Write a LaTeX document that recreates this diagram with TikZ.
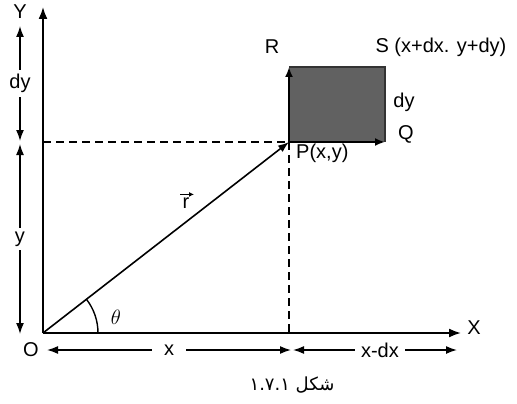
\documentclass[tikz,border=0pt]{standalone}
\usepackage{fontspec}
\setmainfont{Liberation Sans}
\newfontfamily\arabicfont[Script=Arabic]{DejaVu Sans}
\TeXXeTstate=1
\usetikzlibrary{arrows.meta}
\tikzset{
  axisline/.style={line width=1.8pt, -{Latex[length=12pt,width=9pt]}},
  dimline/.style={line width=1.5pt, {Latex[length=11pt,width=8pt]}-{Latex[length=11pt,width=8pt]}},
  guide/.style={line width=1.3pt, dash pattern=on 8pt off 5pt},
  vecline/.style={line width=1.6pt, -{Latex[length=11pt,width=8pt]}},
  edgearrow/.style={line width=2pt, -{Latex[length=10pt,width=8pt]}},
  lbl/.style={font=\fontsize{20}{20}\selectfont, inner sep=1pt},
  dimlbl/.style={lbl, fill=white, inner sep=4pt},
}
\begin{document}
\begin{tikzpicture}[x=1pt,y=-1pt]
\useasboundingbox (0,0) rectangle (517,404);
% key points
\coordinate (O) at (43,333);
\coordinate (Xend) at (461,333);
\coordinate (Yend) at (43,7);
\coordinate (P) at (289,142);
\coordinate (S) at (385,67);
\coordinate (Rc) at (289,67);
\coordinate (Qc) at (385,142);
\coordinate (Py) at (43,142);
\coordinate (Px) at (289,333);
% shaded element
\fill[black!62] (P) rectangle (S);
\draw[line width=1.6pt, black!80] (Rc) -- (S) -- (Qc);
\draw[edgearrow] (P) -- (Rc);
\draw[edgearrow] (P) -- (Qc);
% axes
\draw[axisline] (O) -- (Xend);
\draw[axisline] (O) -- (Yend);
% guides
\draw[guide] (Py) -- (P);
\draw[guide] (P) -- (Px);
% position vector
\draw[vecline] (O) -- (P);
\draw[line width=1.4pt] (O) ++(55,0) arc[start angle=0, end angle=-37.8, radius=55];
% left dimensions
\coordinate (L1) at (20,26);
\coordinate (L2) at (20,141);
\coordinate (L3) at (20,144);
\coordinate (L4) at (20,334);
\draw[dimline] (L1) -- node[dimlbl] (dylbl) {dy} (L2);
\draw[dimline] (L3) -- node[dimlbl] (ylbl) {y} (L4);
% bottom dimensions
\coordinate (B1) at (47,350);
\coordinate (B2) at (291,350);
\coordinate (B3) at (293,350);
\coordinate (B4) at (457,350);
\draw[dimline] (B1) -- node[dimlbl, pos=0.5, inner xsep=12pt] (xlbl) {x} (B2);
\draw[dimline] (B3) -- node[dimlbl, pos=0.53, inner xsep=6pt] (xdxlbl) {x-dx} (B4);
% labels
\node[lbl] (Olbl) at (31,350) {O};
\node[lbl] (Xlbl) at (474,328) {X};
\node[lbl] (Ylbl) at (20,12) {Y};
\node[lbl] (Rlbl) at (272,47) {R};
\node[lbl] (Slbl) at (441,47) {S (x+dx. y+dy)};
\node[lbl] (dylbl2) at (404,102) {dy};
\node[lbl] (Qlbl) at (406,134) {Q};
\node[lbl, anchor=west] (Plbl) at (295,153) {P(x,y)};
\node[lbl, inner sep=0pt] (rlbl) at (186,203) {r};
\draw[line width=1.1pt, -{Latex[length=5pt,width=5pt]}] ([xshift=-6pt,yshift=3pt]rlbl.north) -- ([xshift=8pt,yshift=3pt]rlbl.north);
\node[font=\fontsize{22}{22}\selectfont] (thlbl) at (116,317) {$\theta$};
\node[font=\arabicfont\fontsize{18}{20}\selectfont] (cap) at (292,385) {\beginR شکل ۱.۷.۱\endR};
\end{tikzpicture}
\end{document}
